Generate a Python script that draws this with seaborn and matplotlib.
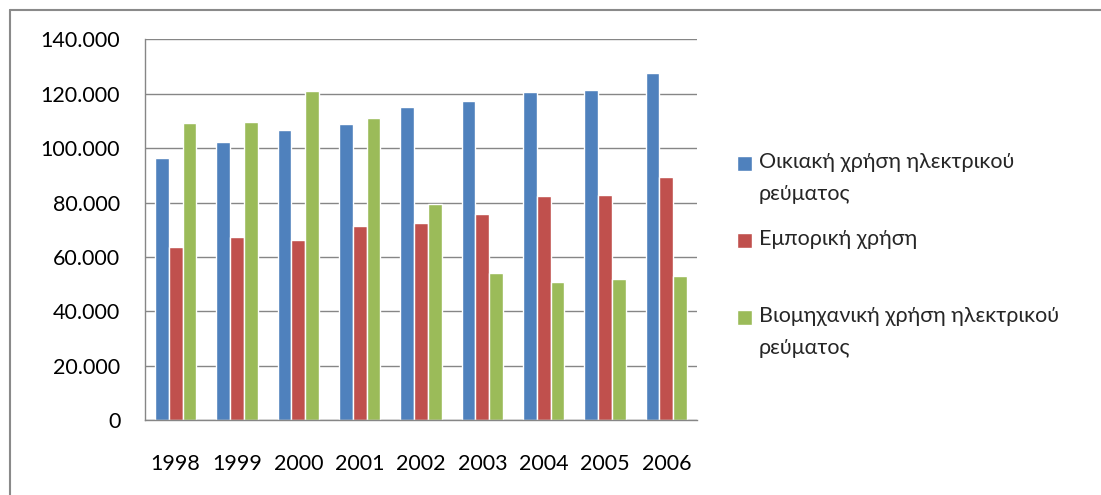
import matplotlib
matplotlib.use('Agg')
import matplotlib.pyplot as plt
import pandas as pd
import seaborn as sns
from matplotlib.legend_handler import HandlerPatch
from matplotlib.lines import Line2D
from matplotlib.patches import Rectangle
from matplotlib.ticker import FuncFormatter, MultipleLocator

# Data
years = ['1998', '1999', '2000', '2001', '2002', '2003', '2004', '2005', '2006']
series_names = ['Οικιακή χρήση ηλεκτρικού\nρεύματος',
                'Εμπορική χρήση\n ',
                'Βιομηχανική χρήση ηλεκτρικού\nρεύματος']
household = [96400, 102200, 106600, 108900, 115100, 117300, 120600, 121400, 127600]
commercial = [63700, 67300, 66200, 71400, 72500, 75800, 82400, 82800, 89400]
industrial = [109200, 109600, 121000, 111100, 79600, 54100, 50800, 51900, 53000]
colors = ['#4F81BD', '#C0504D', '#9BBB59']

df = pd.DataFrame({
    'year': years * 3,
    'series': [series_names[0]] * 9 + [series_names[1]] * 9 + [series_names[2]] * 9,
    'value': household + commercial + industrial,
})


# legend square lined up with the first text line (like Excel)
class FirstLineSquare(HandlerPatch):
    def __init__(self, shift, **kw):
        super().__init__(**kw)
        self.shift = shift

    def create_artists(self, legend, orig_handle, xdescent, ydescent, width, height, fontsize, trans):
        p = Rectangle((-xdescent, -ydescent + self.shift), width, height)
        self.update_prop(p, orig_handle, legend)
        p.set_transform(trans)
        return [p]


sns.set_style('white')
plt.rcParams['font.family'] = ['Lato', 'DejaVu Sans']

fig = plt.figure(figsize=(11.01, 4.95), dpi=100)
ax = fig.add_axes([145 / 1101, 1 - 420.3 / 495, (697 - 145) / 1101, (420.3 - 39.3) / 495])

sns.barplot(data=df, x='year', y='value', hue='series', palette=colors,
            width=0.67, saturation=1, ax=ax, legend=True)

grey = '#868686'
ax.set_ylim(0, 140000)
ax.set_xlim(-0.5, 8.5)
ax.yaxis.set_major_locator(MultipleLocator(20000))
ax.yaxis.set_major_formatter(FuncFormatter(lambda v, p: f'{int(v):,}'.replace(',', '.')))
ax.grid(axis='y', color=grey, linewidth=1.0)
ax.set_axisbelow(True)
ax.set_xlabel('')
ax.set_ylabel('')

for s in ['top', 'right']:
    ax.spines[s].set_visible(False)
for s in ['left', 'bottom']:
    ax.spines[s].set_color(grey)
    ax.spines[s].set_linewidth(1.0)

ax.tick_params(axis='y', direction='out', length=5.8, width=1.0, color=grey,
               pad=12, labelsize=15.5, labelcolor='black')
ax.tick_params(axis='x', which='major', length=0, pad=24, labelsize=15.5, labelcolor='black')
ax.set_xticks([i - 0.5 for i in range(10)], minor=True)
ax.tick_params(axis='x', which='minor', direction='out', length=5.8, width=1.0, color=grey)

# legend on the right
handles, labels = ax.get_legend_handles_labels()
ax.get_legend().remove()
handler = FirstLineSquare(shift=10.5)
leg = fig.legend(handles, labels, loc='upper left', bbox_to_anchor=(737 / 1101, 1 - 152 / 495),
                 frameon=False, fontsize=15.5, handlelength=0.7, handleheight=0.7,
                 handletextpad=0.3, labelspacing=1.15, borderpad=0, borderaxespad=0,
                 handler_map={h: handler for h in handles})
for t in leg.get_texts():
    t.set_linespacing(1.75)

# chart border
fig.add_artist(Line2D([10 / 1101, 1.0], [1 - 10 / 495] * 2, transform=fig.transFigure,
                      color='#8a8a8a', linewidth=1.5))
fig.add_artist(Line2D([10 / 1101] * 2, [0.0, 1 - 10 / 495], transform=fig.transFigure,
                      color='#8a8a8a', linewidth=1.5))

fig.savefig('out.png', dpi=100)
